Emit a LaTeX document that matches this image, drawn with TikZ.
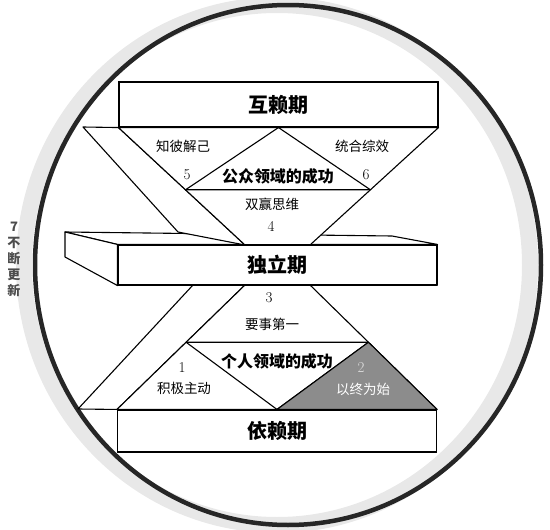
\documentclass[tikz,border=0pt]{standalone}
\usepackage{tikz}
\usepackage{xcolor}
\usepackage{fontspec}
\newfontfamily\cjk{Noto Sans CJK SC}
\usetikzlibrary{shapes, arrows.meta, positioning, calc}

\begin{document}
\begin{tikzpicture}[x=1pt, y=-1pt, line width=1.1pt, line join=round,
    stage/.style={draw, fill=white, minimum width=319, inner sep=0,
      font=\cjk\bfseries\fontsize{20}{24}\selectfont},
    habit/.style={font=\cjk\fontsize{13.5}{16}\selectfont},
    area/.style={font=\cjk\bfseries\fontsize{16}{19}\selectfont},
    num/.style={font=\fontsize{15}{18}\selectfont}]
      \useasboundingbox (0,0) rectangle (550,530);

      % outer ring
      \draw[gray!18, line width=16] (277,265) ellipse [x radius=253, y radius=260];
      \draw[black!85, line width=4.5] (288,265) ellipse [x radius=253, y radius=260];
      \node[align=center, text=black!70, inner sep=0,
        font=\cjk\bfseries\fontsize{13}{16}\selectfont] at (14,259) (renew) {7\\不\\断\\更\\新};

      % boxes
      \node[stage, minimum height=45] at (278.5,104.5) (interdep) {互赖期};
      \node[stage, minimum height=40] at (277.5,265) (indep) {};
      \node[stage, minimum height=42] at (277,431) (dep) {};

      \coordinate (ul) at (83,127);
      \coordinate (bk) at (178,232);
      \coordinate (tl) at (245,245);
      \coordinate (tr) at (310,245);
      \coordinate (sbl) at (65,232);
      \coordinate (sbr) at (392,236);
      \coordinate (slb) at (65,257);
      \coordinate (lb) at (193,285);
      \coordinate (bl) at (245,285);
      \coordinate (br) at (310,285);
      \coordinate (lf) at (78,409);

      % top face and left face of the middle slab
      \draw[fill=white] (indep.north west) -- (sbl) -- (sbr) -- (indep.north east) -- cycle;
      \draw[fill=white] (indep.north west) -- (sbl) -- (slb) -- (indep.south west) -- cycle;

      % upper band and triangle
      \draw[fill=white] (ul) -- (interdep.south west) -- (tl) -- (bk) -- cycle;
      \draw[fill=white] (interdep.south west) -- (interdep.south east) -- (tr) -- (tl) -- cycle;
      \draw ($(interdep.south west)!.53!(tl)$) coordinate (pl) -- (interdep.south)
        -- ($(interdep.south east)!.53!(tr)$) coordinate (pr) -- cycle;

      % lower band and pyramid
      \draw[fill=white] (lb) -- (bl) -- (dep.north west) -- (lf) -- cycle;
      \draw[fill=white] (bl) -- (br) -- (dep.north east) -- (dep.north west) -- cycle;
      \draw ($(bl)!.46!(dep.north west)$) coordinate (ql) -- (dep.north)
        -- ($(br)!.46!(dep.north east)$) coordinate (qr) -- cycle;
      \draw[fill=black!45] (qr) -- (dep.north) -- (dep.north east) -- cycle;

      \node[stage, minimum height=40] at (277.5,265) (indepfront) {独立期};
      \node[stage, minimum height=42] at (277,431) (depfront) {依赖期};
      \draw (interdep.north west) rectangle (interdep.south east);

      % labels
      \node[habit] at (183,146) (understand) {知彼解己};
      \node[habit] at (362,146) (synergy) {统合综效};
      \node[num] at (187,175) (five) {5};
      \node[area] at (278,176) (public) {公众领域的成功};
      \node[num] at (366,175) (six) {6};
      \node[habit] at (272,204) (winwin) {双赢思维};
      \node[num] at (271,226) (four) {4};

      \node[num] at (269,298) (three) {3};
      \node[habit] at (272,324) (first) {要事第一};
      \node[area] at (277,361) (private) {个人领域的成功};
      \node[num] at (182,368) (one) {1};
      \node[habit] at (184,388) (proactive) {积极主动};
      \node[num, text=gray!25] at (361,368) (two) {2};
      \node[habit, text=white] at (363,389) (endmind) {以终为始};
    \end{tikzpicture}
\end{document}
